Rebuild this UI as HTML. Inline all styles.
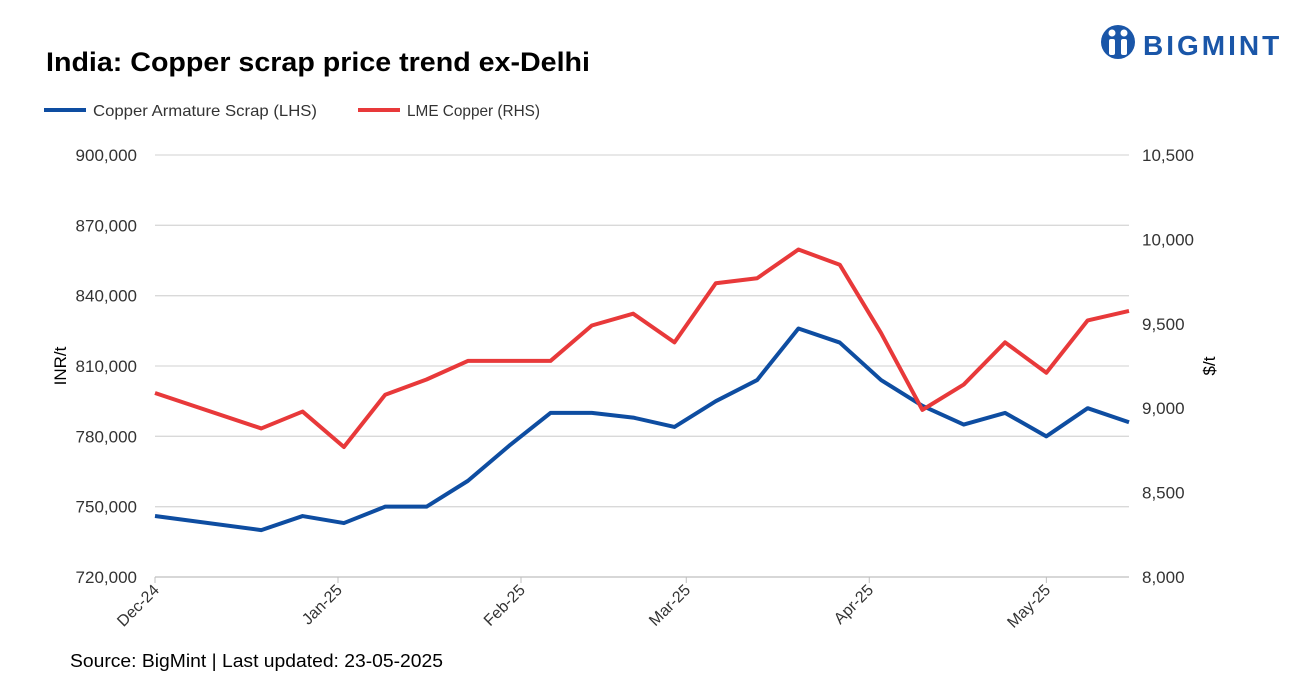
<!DOCTYPE html>
<html><head><meta charset="utf-8"><style>
body{margin:0;background:#fff;font-family:"Liberation Sans",Arial,sans-serif;}
svg text{font-family:"Liberation Sans",Arial,sans-serif;}
</style></head><body>
<svg id="chart" width="1316" height="681" xmlns="http://www.w3.org/2000/svg">
<rect width="1316" height="681" fill="#fff"/>
<text x="46" y="71" font-size="27" font-weight="bold" fill="#000" textLength="544" lengthAdjust="spacingAndGlyphs">India: Copper scrap price trend ex-Delhi</text>
<g>
<circle cx="1118" cy="42" r="17" fill="#1a56a8"/>
<circle cx="1112" cy="33" r="3.5" fill="#fff"/><circle cx="1124" cy="33" r="3.5" fill="#fff"/>
<rect x="1109" y="39" width="6" height="16" rx="2" fill="#fff"/><rect x="1121" y="39" width="6" height="16" rx="2" fill="#fff"/>
<text x="1143" y="55" font-size="28" font-weight="bold" fill="#1a56a8" letter-spacing="3">BIGMINT</text>
</g>
<g>
<line x1="44" y1="110" x2="86" y2="110" stroke="#0e4da1" stroke-width="4"/>
<text x="93" y="116" font-size="16" fill="#333" textLength="224" lengthAdjust="spacingAndGlyphs">Copper Armature Scrap (LHS)</text>
<line x1="358" y1="110" x2="400" y2="110" stroke="#e8393a" stroke-width="4"/>
<text x="407" y="116" font-size="16" fill="#333" textLength="133" lengthAdjust="spacingAndGlyphs">LME Copper (RHS)</text>
</g>
<g id="grid"></g><g id="axes"></g><g id="series"></g>
<text transform="translate(66,366) rotate(-90)" text-anchor="middle" font-size="17" fill="#000">INR/t</text>
<text transform="translate(1215,366) rotate(-90)" text-anchor="middle" font-size="17" fill="#000">$/t</text>
<text x="70" y="667" font-size="18" fill="#000" textLength="373" lengthAdjust="spacingAndGlyphs">Source: BigMint | Last updated: 23-05-2025</text>
</svg>
<script>
const dayOffsets=[0,18,25,32,39,46,53,60,67,74,81,88,95,102,109,116,123,130,137,144,151,158,165];
const scrapValues=[746000,740000,746000,743000,750000,750000,761000,776000,790000,790000,788000,784000,795000,804000,826000,820000,804000,793000,785000,790000,780000,792000,786000];
const lmeValues=[9090,8880,8980,8770,9080,9170,9280,9280,9280,9490,9560,9390,9740,9770,9940,9850,9445,8990,9140,9390,9210,9520,9576];
const leftTicks=[720000,750000,780000,810000,840000,870000,900000];
const rightTicks=[8000,8500,9000,9500,10000,10500];
const monthLabels=["Dec-24","Jan-25","Feb-25","Mar-25","Apr-25","May-25"];
const monthDays=[0,31,62,90,121,151];
const NS="http://www.w3.org/2000/svg";
const X0=155,X1=1129,Y0=577,Y1=155;
const xS=d=>X0+d*(X1-X0)/165;
const yL=v=>Y0-(v-720000)/(900000-720000)*(Y0-Y1);
const yR=v=>Y0-(v-8000)/(10500-8000)*(Y0-Y1);
function mk(p,t,a){const e=document.createElementNS(NS,t);for(const k in a)e.setAttribute(k,a[k]);document.getElementById(p).appendChild(e);return e;}
leftTicks.forEach(v=>{
 const y=yL(v);
 const g=mk('grid','line',{x1:X0,x2:X1,y1:y,y2:y,stroke:v===720000?'#bfbfbf':'#d9d9d9','stroke-width':1.3});
 
 
 const t=mk('axes','text',{x:137,y:y+6,'text-anchor':'end','font-size':17,fill:'#333'});
 t.textContent=v.toLocaleString('en-US');
 
 
});
rightTicks.forEach(v=>{
 const t=mk('axes','text',{x:1142,y:yR(v)+6,'font-size':17,fill:'#333'});
 t.textContent=v.toLocaleString('en-US');
 
 
});
monthLabels.forEach((m,i)=>{
 const x=xS(monthDays[i]);
 const tk=mk('axes','line',{x1:x,x2:x,y1:Y0,y2:Y0+6,stroke:'#bfbfbf'});
 
 
 const t=mk('axes','text',{transform:`translate(${x+5},${Y0+14}) rotate(-45)`,'text-anchor':'end','font-size':16,fill:'#333'});
 t.textContent=m;
 
 
});
const pl=mk('series','polyline',{points:dayOffsets.map((d,i)=>xS(d)+','+yL(scrapValues[i])).join(' '),fill:'none',stroke:'#0e4da1','stroke-width':4,'stroke-linejoin':'round'});


const pr=mk('series','polyline',{points:dayOffsets.map((d,i)=>xS(d)+','+yR(lmeValues[i])).join(' '),fill:'none',stroke:'#e8393a','stroke-width':4,'stroke-linejoin':'round'});


</script>
</body></html>
